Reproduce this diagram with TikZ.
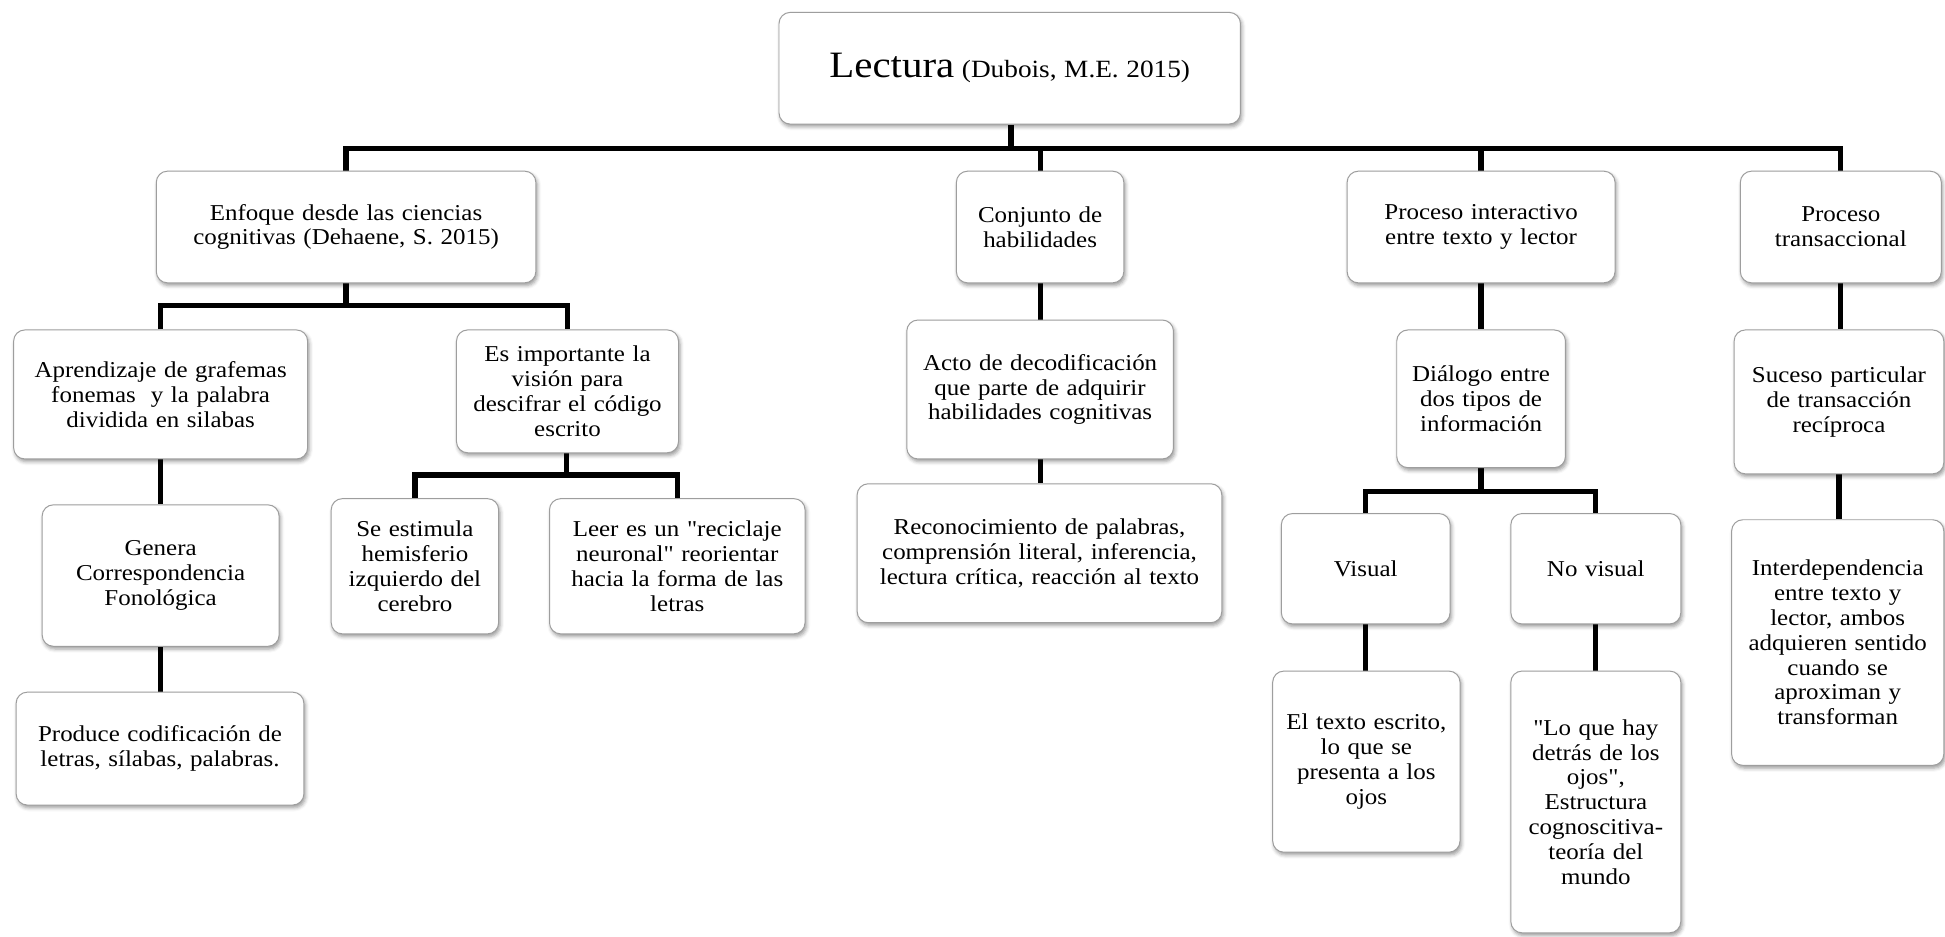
\documentclass[tikz,border=0pt]{standalone}
\usepackage{fontspec}
\setmainfont{Liberation Serif}[FakeStretch=1.1]
% same face without the TeX quote mapping, for straight quotes
\newfontfamily\qfont{Liberation Serif}[FakeStretch=1.1]
\usetikzlibrary{shadows.blur,backgrounds}

\tikzset{
  box/.style={draw=black!38, line width=0.8pt, fill=white, rounded corners=9pt,
    align=center, inner xsep=0pt, inner ysep=2pt,
    font=\fontsize{18.3}{20}\selectfont,
    blur shadow={shadow xshift=1.2pt, shadow yshift=-2.2pt,
      shadow blur radius=3pt, shadow opacity=40}},
  link/.style={line width=4.2pt, black, line join=miter}
}

% straight double quote
\newcommand\dq{{\qfont"}}

% box from its left, top, right and bottom edges
\newcommand\boxnode[6]{%
  \pgfmathsetmacro\bxw{#4-#2}\pgfmathsetmacro\bxh{#5-#3}%
  \node[box, text width=\bxw pt, minimum height=\bxh pt] (#1)
    at ({(#2+#4)/2},{(#3+#5)/2}) {#6};}

\begin{document}
\begin{tikzpicture}[x=1pt,y=-1pt]
\useasboundingbox (0,0) rectangle (1568,755);

% ---- junction points of the tree
\coordinate (b0) at (815,120);
\coordinate (b1) at (279,246);
\coordinate (b2) at (457,383);
\coordinate (b3) at (1194,396);

% ---- boxes
\boxnode{root}{628}{10}{1000}{100}{\fontsize{30}{34}\selectfont Lectura {\fontsize{20}{24}\selectfont (Dubois, M.E. 2015)}}

\boxnode{enf}{126}{138}{432}{228}{Enfoque desde las ciencias\\cognitivas (Dehaene, S. 2015)}
\boxnode{conj}{771}{138}{906}{228}{Conjunto de\\habilidades}
\boxnode{inter}{1086}{138}{1302}{228}{Proceso interactivo\\entre texto y lector}
\boxnode{trans}{1403}{138}{1565}{228}{Proceso\\transaccional}

\boxnode{apr}{11}{266}{248}{370}{Aprendizaje de grafemas\\fonemas\ \ y la palabra\\dividida en silabas}
\boxnode{imp}{368}{266}{547}{365}{Es importante la\\visión para\\descifrar el código\\escrito}
\boxnode{gen}{34}{407}{225}{521}{Genera\\Correspondencia\\Fonológica}
\boxnode{prod}{13}{558}{245}{649}{Produce codificación de\\letras, sílabas, palabras.}
\boxnode{est}{267}{402}{402}{511}{Se estimula\\hemisferio\\izquierdo del\\cerebro}
\boxnode{leer}{443}{402}{649}{511}{Leer es un \dq reciclaje\\neuronal\dq{} reorientar\\hacia la forma de las\\letras}

\boxnode{acto}{731}{258}{946}{370}{Acto de decodificación\\que parte de adquirir\\habilidades cognitivas}
\boxnode{recon}{691}{390}{985}{502}{Reconocimiento de palabras,\\comprensión literal, inferencia,\\lectura crítica, reacción al texto}

\boxnode{dial}{1126}{266}{1262}{377}{Diálogo entre\\dos tipos de\\información}
\boxnode{vis}{1033}{414}{1169}{503}{Visual}
\boxnode{novis}{1218}{414}{1355}{503}{No visual}
\boxnode{eltex}{1026}{541}{1177}{687}{El texto escrito,\\lo que se\\presenta a los\\ojos}
\boxnode{loque}{1218}{541}{1355}{752}{\dq Lo que hay\\detrás de los\\ojos\dq,\\Estructura\\cognoscitiva-\\teoría del\\mundo}

\boxnode{suc}{1398}{266}{1567}{382}{Suceso particular\\de transacción\\recíproca}
\boxnode{interd}{1396}{419}{1567}{617}{Interdependencia\\entre texto y\\lector, ambos\\adquieren sentido\\cuando se\\aproximan y\\transforman}

% ---- tree lines, behind the boxes
\begin{scope}[on background layer]
\draw[link] (root.south -| b0) -- (b0);
\draw[link] (enf.north) -- (enf.north |- b0) -- (trans.north |- b0) -- (trans.north);
\draw[link] (conj.north) -- (conj.north |- b0);
\draw[link] (inter.north) -- (inter.north |- b0);

\draw[link] (enf.south -| b1) -- (b1);
\draw[link] (apr.north) -- (apr.north |- b1) -- (imp.north |- b1) -- (imp.north);
\draw[link] (apr.south) -- (apr.south |- gen.north);
\draw[link] (gen.south) -- (gen.south |- prod.north);
\draw[link] (imp.south -| b2) -- (b2);
\draw[link] (est.north) -- (est.north |- b2) -- (leer.north |- b2) -- (leer.north);

\draw[link] (conj.south) -- (conj.south |- acto.north);
\draw[link] (acto.south) -- (acto.south |- recon.north);

\draw[link] (inter.south) -- (inter.south |- dial.north);
\draw[link] (dial.south -| b3) -- (b3);
\draw[link] (vis.north) -- (vis.north |- b3) -- (novis.north |- b3) -- (novis.north);
\draw[link] (vis.south) -- (vis.south |- eltex.north);
\draw[link] (novis.south) -- (novis.south |- loque.north);

\draw[link] (trans.south) -- (trans.south |- suc.north);
\draw[link] (suc.south) -- (suc.south |- interd.north);
\end{scope}
\end{tikzpicture}
\end{document}
